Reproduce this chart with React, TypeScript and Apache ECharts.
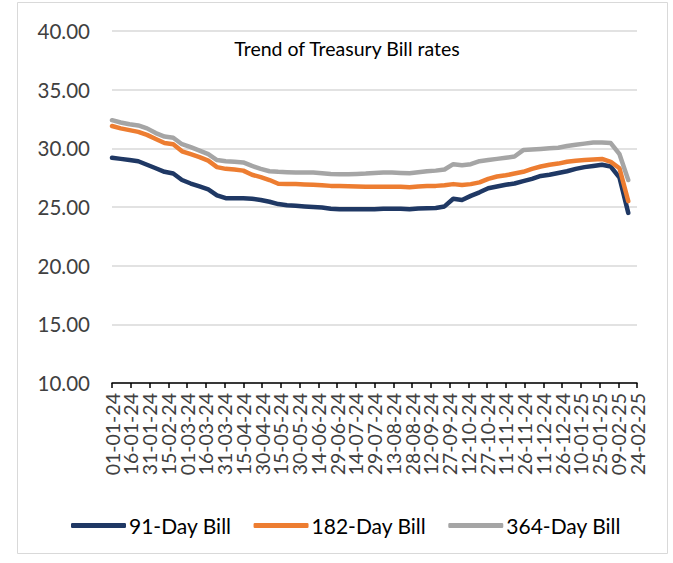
import React, { useEffect, useRef } from "react";
import * as echarts from "echarts";

const dates: string[] = [
  "2024-01-01", "2024-01-08", "2024-01-15", "2024-01-22", "2024-01-29",
  "2024-02-05", "2024-02-12", "2024-02-19", "2024-02-26", "2024-03-04",
  "2024-03-11", "2024-03-18", "2024-03-25", "2024-04-01", "2024-04-08",
  "2024-04-15", "2024-04-22", "2024-04-29", "2024-05-06", "2024-05-13",
  "2024-05-20", "2024-05-27", "2024-06-03", "2024-06-10", "2024-06-17",
  "2024-06-24", "2024-07-01", "2024-07-08", "2024-07-15", "2024-07-22",
  "2024-07-29", "2024-08-05", "2024-08-12", "2024-08-19", "2024-08-26",
  "2024-09-02", "2024-09-09", "2024-09-16", "2024-09-23", "2024-09-30",
  "2024-10-07", "2024-10-14", "2024-10-21", "2024-10-28", "2024-11-04",
  "2024-11-11", "2024-11-18", "2024-11-25", "2024-12-02", "2024-12-09",
  "2024-12-16", "2024-12-23", "2024-12-30", "2025-01-06", "2025-01-13",
  "2025-01-20", "2025-01-27", "2025-02-03", "2025-02-10", "2025-02-17",
];

const bill91: number[] = [
  29.2, 29.1, 29.0, 28.9, 28.6, 28.3, 28.0, 27.85, 27.3, 27.0,
  26.75, 26.5, 26.0, 25.75, 25.75, 25.75, 25.7, 25.6, 25.45, 25.25,
  25.15, 25.1, 25.05, 25.0, 24.95, 24.85, 24.8, 24.8, 24.8, 24.8,
  24.8, 24.85, 24.85, 24.85, 24.8, 24.88, 24.9, 24.92, 25.05, 25.7,
  25.6, 25.95, 26.25, 26.6, 26.75, 26.9, 27.0, 27.2, 27.4, 27.65,
  27.75, 27.9, 28.05, 28.25, 28.4, 28.5, 28.6, 28.45, 27.5, 24.5,
];

const bill182: number[] = [
  31.9, 31.7, 31.55, 31.4, 31.15, 30.8, 30.45, 30.35, 29.75, 29.5,
  29.25, 28.95, 28.4, 28.25, 28.2, 28.1, 27.75, 27.55, 27.3, 26.98,
  26.95, 26.95, 26.92, 26.9, 26.85, 26.8, 26.78, 26.77, 26.75, 26.73,
  26.73, 26.73, 26.73, 26.72, 26.68, 26.75, 26.78, 26.8, 26.85, 26.95,
  26.88, 26.95, 27.1, 27.4, 27.6, 27.7, 27.85, 28.0, 28.25, 28.45,
  28.6, 28.7, 28.85, 28.95, 29.0, 29.05, 29.1, 28.85, 28.3, 25.5,
];

const bill364: number[] = [
  32.4, 32.2, 32.05, 31.95, 31.7, 31.3, 31.0, 30.9, 30.35, 30.1,
  29.8, 29.5, 29.0, 28.9, 28.85, 28.8, 28.5, 28.25, 28.05, 28.0,
  27.97, 27.95, 27.95, 27.95, 27.88, 27.82, 27.8, 27.8, 27.82, 27.85,
  27.9, 27.93, 27.93, 27.9, 27.88, 27.97, 28.05, 28.1, 28.2, 28.65,
  28.55, 28.65, 28.9, 29.0, 29.1, 29.2, 29.3, 29.85, 29.9, 29.95,
  30.0, 30.05, 30.2, 30.3, 30.4, 30.5, 30.5, 30.45, 29.5, 27.3,
];

const tickLabels: string[] = [
  "01-01-24", "16-01-24", "31-01-24", "15-02-24", "01-03-24", "16-03-24",
  "31-03-24", "15-04-24", "30-04-24", "15-05-24", "30-05-24", "14-06-24",
  "29-06-24", "14-07-24", "29-07-24", "13-08-24", "28-08-24", "12-09-24",
  "27-09-24", "12-10-24", "27-10-24", "11-11-24", "26-11-24", "11-12-24",
  "26-12-24", "10-01-25", "25-01-25", "09-02-25", "24-02-25",
];

const seriesNames: string[] = ["91-Day Bill", "182-Day Bill", "364-Day Bill"];
const seriesColors: string[] = ["#1f3864", "#ed7d31", "#a5a5a5"];
const axisStart = "2024-01-01";
const axisEnd = "2025-02-24";
const yTicks: number[] = [10, 15, 20, 25, 30, 35, 40];

const DAY = 86400000;
const toMs = (s: string) => Date.parse(s + "T00:00:00Z");
const startMs = toMs(axisStart);
const dayIndex = (s: string) => Math.round((toMs(s) - startMs) / DAY);

const FONT = "Lato";

export default function App() {
  const ref = useRef<HTMLDivElement>(null);
  useEffect(() => {
    if (!ref.current) return;
    const chart = echarts.init(ref.current, undefined, { renderer: "svg" });
    const allSeries = [bill91, bill182, bill364];
    chart.setOption({
      animation: false,
      backgroundColor: "#ffffff",
      textStyle: { fontFamily: FONT },
      title: {
        text: "Trend of Treasury Bill rates",
        left: 342,
        top: 33,
        textAlign: "center",
        textStyle: { fontFamily: FONT, fontSize: 19.5, fontWeight: "normal", color: "#000000" },
      },
      graphic: [
        {
          type: "rect",
          shape: { x: 17.5, y: 2.5, width: 650, height: 551 },
          style: { fill: "none", stroke: "#d9d9d9", lineWidth: 1 },
          silent: true,
        },
      ],
      legend: {
        top: 510,
        left: 66,
        itemGap: 22,
        itemWidth: 55,
        itemHeight: 5,
        icon: "roundRect",
        textStyle: { fontFamily: FONT, fontSize: 21, color: "#000000", padding: [0, 0, 0, -2] },
        data: seriesNames,
      },
      grid: { left: 112, right: 36, top: 31, bottom: 180, containLabel: false },
      xAxis: [
        {
          type: "value",
          min: 0,
          max: dayIndex(axisEnd),
          interval: 15,
          axisLine: { show: false },
          axisTick: { show: false },
          splitLine: { show: false },
          axisLabel: { show: false },
        },
        {
          type: "category",
          position: "bottom",
          data: tickLabels,
          boundaryGap: false,
          axisLine: { show: true, onZero: false, lineStyle: { color: "#000000", width: 1.5 } },
          axisTick: { show: true, length: 5, interval: 0, lineStyle: { color: "#000000", width: 1.5 } },
          splitLine: { show: false },
          axisLabel: {
            interval: 0,
            rotate: 90,
            margin: 10,
            fontFamily: FONT,
            fontSize: 19.5,
            color: "#404040",
          },
        },
      ],
      yAxis: {
        type: "value",
        min: yTicks[0],
        max: yTicks[yTicks.length - 1],
        interval: 5,
        axisLine: { show: false },
        axisTick: { show: false },
        splitLine: { lineStyle: { color: "#d9d9d9", width: 1.5 } },
        axisLabel: {
          margin: 22,
          fontFamily: FONT,
          fontSize: 20.5,
          color: "#404040",
          formatter: (v: number) => v.toFixed(2),
        },
      },
      series: seriesNames.map((name, i) => ({
        name,
        type: "line",
        xAxisIndex: 0,
        showSymbol: false,
        symbol: "none",
        smooth: false,
        lineStyle: { color: seriesColors[i], width: 4.5, cap: "round", join: "round" },
        itemStyle: { color: seriesColors[i] },
        data: dates.map((d, j) => [dayIndex(d), allSeries[i][j]]),
      })),
    });
    return () => chart.dispose();
  }, []);
  return (
    <div
      ref={ref}
      style={{ position: "absolute", left: 0, top: 0, width: 673, height: 563 }}
    />
  );
}
